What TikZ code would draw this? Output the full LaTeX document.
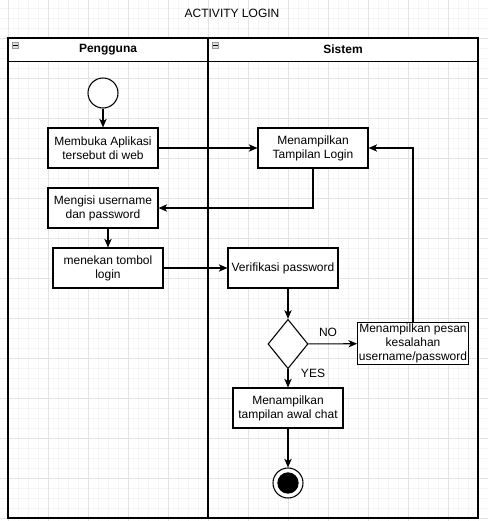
\documentclass[tikz,border=0pt]{standalone}
\usepackage{fontspec}
\setmainfont{Liberation Sans}
\usetikzlibrary{shapes.geometric,arrows.meta,calc}
\begin{document}
\begin{tikzpicture}[x=0.75pt,y=-0.75pt,
  txt/.style={font=\fontsize{9}{10.5}\selectfont},
  box/.style={txt,draw,fill=white,line width=0.8pt,minimum width=82.5pt,minimum height=30pt,align=center,inner sep=1pt},
  arr/.style={-{Stealth[length=6.5pt,width=5.5pt,inset=1.8pt]},line width=0.8pt},
  lane/.style={draw,line width=0.9pt},
  mini/.style={draw=gray!80,fill=gray!25,line width=0.4pt,minimum size=4.5pt,inner sep=0pt}
]
\useasboundingbox (0,0) rectangle (488,521);
% background grid
\foreach \x in {8,18,...,488} \draw[black!4,line width=0.5pt] (\x,0) -- (\x,521);
\foreach \y in {8,18,...,521} \draw[black!4,line width=0.5pt] (0,\y) -- (488,\y);
\foreach \x in {8,48,...,488} \draw[black!11,line width=0.5pt] (\x,0) -- (\x,521);
\foreach \y in {38,78,...,521} \draw[black!11,line width=0.5pt] (0,\y) -- (488,\y);

\node[txt] (title) at (232,13) {ACTIVITY LOGIN};

% pool
\draw[lane,fill=white] (8,38) rectangle (478,61.5);
\draw[lane] (8,38) rectangle (478,518);
\draw[lane] (208,38) -- (208,518);
\node[txt,font=\fontsize{9}{10.5}\selectfont\bfseries] (l1) at (108,49.5) {Pengguna};
\node[txt,font=\fontsize{9}{10.5}\selectfont\bfseries] (l2) at (343,49.5) {Sistem};
\node[mini] (m1) at (15.5,45) {};
\draw[line width=0.5pt] ($(m1.west)+(1,0)$) -- ($(m1.east)+(-1,0)$);
\node[mini] (m2) at (215.5,45) {};
\draw[line width=0.5pt] ($(m2.west)+(1,0)$) -- ($(m2.east)+(-1,0)$);

% nodes
\node[circle,draw,fill=white,line width=0.8pt,minimum size=22.5pt,inner sep=0pt] (start) at (103,93) {};
\node[box] (b1) at (103,148) {Membuka Aplikasi\\tersebut di web};
\node[box] (b2) at (103,208) {Mengisi username\\dan password};
\node[box] (b3) at (108,268) {menekan tombol\\login};
\node[box] (b4) at (313,148) {Menampilkan\\Tampilan Login};
\node[box] (b5) at (283,268) {Verifikasi password};
\node[diamond,draw,fill=white,line width=0.8pt,minimum width=30pt,minimum height=37pt,inner sep=0pt] (dec) at (288,344) {};
\node[box,minimum height=32pt] (b6) at (413,343.5) {Menampilkan pesan\\kesalahan\\username/password};
\node[box] (b7) at (288,408) {Menampilkan\\tampilan awal chat};
\node[circle,draw,fill=white,line width=0.8pt,minimum size=22.5pt,inner sep=0pt] (end) at (288,483) {};
\node[circle,fill=black,minimum size=16pt,inner sep=0pt] (endin) at (end) {};

% connectors
\draw[arr] (start) -- (b1);
\draw[arr] (b1) -- (b4);
\draw[arr] (b4.south) |- (b2.east);
\draw[arr] (b2.south -| b3.north) -- (b3.north);
\draw[arr] (b3) -- (b5);
\draw[arr] (b5.south -| dec.north) -- (dec.north);
\draw[arr] (dec) -- (b6);
\draw[arr] (b6.north) |- (b4.east);
\draw[arr] (dec) -- (b7);
\draw[arr] (b7) -- (end);

\node[txt] (no) at (328,332) {NO};
\node[txt] (yes) at (313,373) {YES};
\end{tikzpicture}
\end{document}
